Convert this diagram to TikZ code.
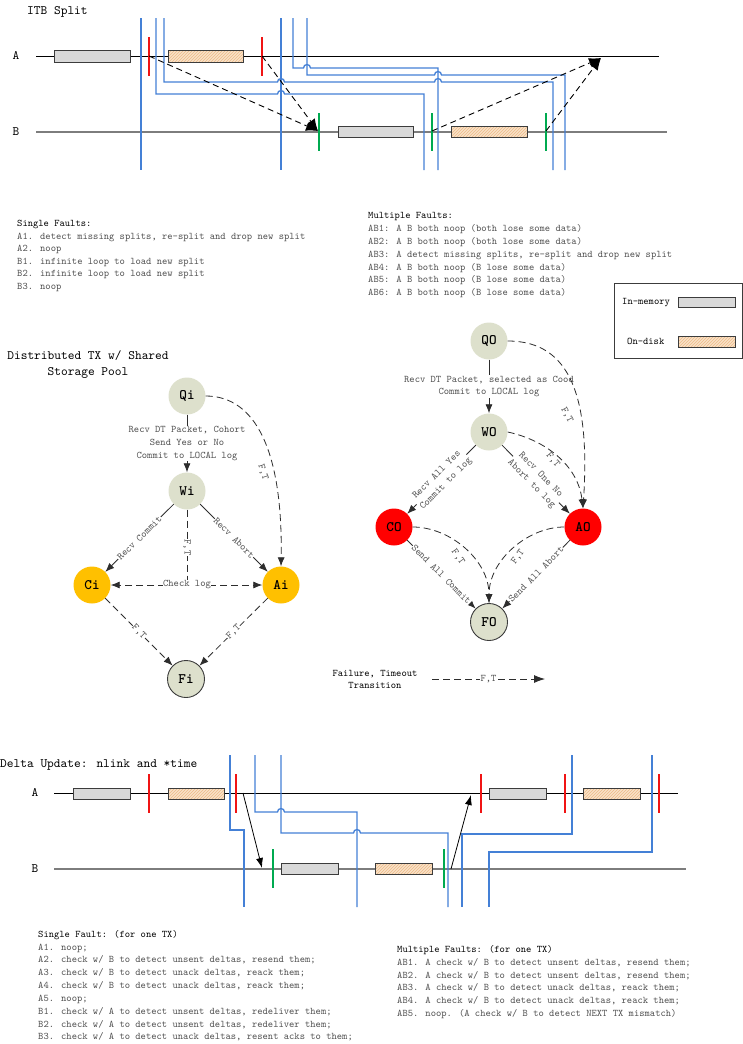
\documentclass[tikz,border=0pt]{standalone}
\usepackage{fontspec}
\usetikzlibrary{arrows.meta,patterns}
\newfontfamily\simf{lmmono10-regular.otf}
\newfontfamily\simb{lmmonolt10-bold.otf}
\definecolor{bluel}{RGB}{68,128,214}
\definecolor{redt}{RGB}{240,20,20}
\definecolor{greent}{RGB}{0,170,80}
\definecolor{nodeg}{RGB}{221,224,204}
\definecolor{orng}{RGB}{255,192,0}
\definecolor{txtg}{RGB}{80,80,80}
\definecolor{diskf}{RGB}{250,226,200}
\definecolor{diskp}{RGB}{236,186,136}
\definecolor{memf}{RGB}{217,217,217}
\definecolor{boxd}{RGB}{60,60,60}
\definecolor{linegray}{RGB}{125,125,125}
\definecolor{edg}{RGB}{45,45,45}
\tikzset{
 body/.style={font=\simf\fontsize{10.1}{12.8}\selectfont, text=txtg, inner sep=0pt},
 head/.style={font=\simf\fontsize{10.1}{12.8}\selectfont, text=black, inner sep=0pt},
 ttl/.style={font=\simf\fontsize{12.8}{16}\selectfont, text=black, inner sep=0pt},
 lab/.style={font=\simf\fontsize{10.1}{12.8}\selectfont, text=txtg, inner sep=0.6pt, fill=white},
 labnf/.style={font=\simf\fontsize{10.1}{12.8}\selectfont, text=txtg, inner sep=0pt},
 bl/.style={draw=bluel, line width=1.3pt},
 rtick/.style={draw=redt, line width=1.5pt},
 gtick/.style={draw=greent, line width=1.5pt},
 mem/.style={draw=boxd, line width=1pt, fill=memf, minimum height=11pt, inner sep=0pt},
 disk/.style={draw=boxd, line width=1pt, preaction={fill=diskf}, pattern=north east lines, pattern color=diskp, minimum height=11pt, inner sep=0pt},
 st/.style={circle, minimum size=37pt, inner sep=0pt, font=\simb\fontsize{14.5}{15}\selectfont},
 sarr/.style={draw=edg, line width=0.8pt, -{Latex[length=9pt,width=7pt]}},
 darr/.style={draw=edg, line width=0.8pt, dash pattern=on 7pt off 4pt, -{Latex[length=9pt,width=7pt]}},
 dln/.style={draw=edg, line width=0.8pt, dash pattern=on 7pt off 4pt},
 itbarr/.style={draw=black, line width=0.9pt, dash pattern=on 6pt off 4pt, -{Latex[length=12pt,width=10pt]}},
 blkarr/.style={draw=black, line width=0.8pt, -{Latex[length=10pt,width=7pt]}},
 lineA/.style={draw=black, line width=1pt},
 lineB/.style={draw=linegray, line width=1.6pt},
}
\begin{document}
\begin{tikzpicture}[x=1pt,y=-1pt]
\useasboundingbox[fill=white] (0,0) rectangle (743,1044);

% ================= ITB Split =================
\node[ttl, anchor=base west] (t1) at (27,14) {ITB Split};
\node[ttl] (la1) at (16,56) {A};
\node[ttl] (lb1) at (16,132) {B};
\draw[lineA] (36,56) -- (659,56);
\draw[lineB] (36,132) -- (667,132);
\node[mem, minimum width=76pt, minimum height=12pt] (ia1) at (92,56) {};
\node[disk, minimum width=75pt, minimum height=12pt] (ia2) at (205.5,56) {};
\node[mem, minimum width=75pt] (ib1) at (375.5,131.5) {};
\node[disk, minimum width=76pt] (ib2) at (489,131.5) {};
\draw[rtick] (149,37) -- (149,76);
\draw[rtick] (262,37) -- (262,76);
\draw[gtick] (319,113) -- (319,151);
\draw[gtick] (432,113) -- (432,151);
\draw[gtick] (546,113) -- (546,151);
% blue lines
\draw[bl] (141,18) -- (141,170);
\draw[bl] (281,18) -- (281,170);
\draw[bl] (156,18) -- (156,94) -- (277.5,94) arc[start angle=180,end angle=0,radius=3.5pt] -- (424,94) -- (424,170);
\draw[bl] (164,18) -- (164,82) -- (277.5,82) arc[start angle=180,end angle=0,radius=3.5pt] -- (434.5,82) arc[start angle=180,end angle=0,radius=3.5pt] -- (553,82) -- (553,170);
\draw[bl] (293,18) -- (293,68) -- (303.5,68) arc[start angle=180,end angle=0,radius=3.5pt] -- (438,68) -- (438,170);
\draw[bl] (307,18) -- (307,75) -- (434.5,75) arc[start angle=180,end angle=0,radius=3.5pt] -- (565,75) -- (565,170);
% dashed arrows
\coordinate (r1) at (149,56);
\coordinate (r2) at (262,56);
\coordinate (g1) at (318,131);
\coordinate (g2) at (432,131);
\coordinate (g3) at (546,131);
\coordinate (tA) at (601,58);
\draw[itbarr] (r1) -- (g1);
\draw[itbarr] (r2) -- (g1);
\draw[itbarr] (g2) -- (tA);
\draw[itbarr] (g3) -- (tA);

% texts
\node[head, anchor=base west] (sf0) at (17,226.5) {Single Faults:};
\foreach \txt [count=\i] in {{A1. detect missing splits, re-split and drop new split},{A2. noop},{B1. infinite loop to load new split},{B2. infinite loop to load new split},{B3. noop}}
  \node[body, anchor=base west] (sf\i) at (17,{226.5+12.6*\i}) {\txt};
\node[head, anchor=base west] (mf0) at (368,218.2) {Multiple Faults:};
\foreach \txt [count=\i] in {{AB1: A B both noop (both lose some data)},{AB2: A B both noop (both lose some data)},{AB3: A detect missing splits, re-split and drop new split},{AB4: A B both noop (B lose some data)},{AB5: A B both noop (B lose some data)},{AB6: A B both noop (B lose some data)}}
  \node[body, anchor=base west] (mf\i) at (368,{218.2+12.95*\i}) {\txt};

% legend
\node[draw=boxd, line width=1pt, minimum width=128pt, minimum height=75pt, inner sep=0pt] (legend) at (678,320.5) {};
\node[head, anchor=base west] (lgm) at (622,304.2) {In-memory};
\node[head, anchor=base west] (lgd) at (627,344.2) {On-disk};
\node[mem, minimum width=57pt, minimum height=10pt] (lgmb) at (706.5,302) {};
\node[disk, minimum width=57pt] (lgdb) at (706.5,341.5) {};

% ================= Distributed TX =================
\node[ttl, align=center] (t2) at (88,365) {Distributed TX w/ Shared\\Storage Pool};
\node[st, fill=nodeg] (Qi) at (187,396) {Qi};
\node[st, fill=nodeg] (Wi) at (187,491) {Wi};
\node[st, fill=orng] (Ci) at (92,585) {Ci};
\node[st, fill=orng] (Ai) at (281,585) {Ai};
\node[st, fill=nodeg, draw=boxd, line width=0.9pt] (Fi) at (186,679) {Fi};
\coordinate (chk) at (187,585);
\draw[sarr] (Qi) -- node[lab, align=center] (lq) {Recv DT Packet, Cohort\\Send Yes or No\\Commit to LOCAL log} (Wi);
\draw[sarr] (Wi) -- node[lab, sloped] (lwc) {Recv Commit} (Ci);
\draw[sarr] (Wi) -- node[lab, sloped] (lwa) {Recv Abort} (Ai);
\draw[dln] (Wi) -- node[lab, sloped] (lwf) {F,T} (chk);
\draw[darr] (chk) -- (Ci);
\draw[darr] (chk) -- (Ai);
\node[lab] (lchk) at (chk) {Check log};
\draw[darr] (Ci) -- node[lab, sloped] (lcf) {F,T} (Fi);
\draw[darr] (Ai) -- node[lab, sloped] (laf) {F,T} (Fi);
\draw[darr] (Qi.east) .. controls (255,396) and (283,450) .. (Ai.north);
\node[labnf, rotate=-72] (lqa) at (263,472) {F,T};

% ================= right graph =================
\node[st, fill=nodeg] (QO) at (489,341) {QO};
\node[st, fill=nodeg] (WO) at (489,432) {WO};
\node[st, fill=red] (CO) at (394,527) {CO};
\node[st, fill=red] (AO) at (583,527) {AO};
\node[st, fill=nodeg, draw=boxd, line width=0.9pt] (FO) at (489,622) {FO};
\draw[sarr] (QO) -- node[lab, align=center] (lqo) {Recv DT Packet, selected as Cood\\Commit to LOCAL log} (WO);
\draw[sarr] (WO) -- node[lab, sloped, align=center] (lwco) {Recv All Yes\\Commit to log} (CO);
\draw[sarr] (WO) -- node[lab, sloped, align=center] (lwao) {Recv One No\\Abort to log} (AO);
\draw[sarr] (CO) -- node[lab, sloped] (lcfo) {Send All Commit} (FO);
\draw[sarr] (AO) -- node[lab, sloped] (lafo) {Send All Abort} (FO);
\draw[darr] (QO.east) .. controls (572,341) and (590,400) .. (AO.north);
\node[labnf, rotate=-62] (lqao) at (567,415) {F,T};
\draw[darr] (WO.east) .. controls (545,440) and (578,465) .. (AO.north);
\node[labnf, rotate=-50] (lwaof) at (553,460) {F,T};
\draw[darr] (CO.east) .. controls (450,527) and (489,560) .. (FO.north);
\node[labnf, rotate=-55] (lcfof) at (458,557) {F,T};
\draw[darr] (AO.west) .. controls (528,527) and (489,560) .. (FO.north);
\node[labnf, rotate=55] (lafof) at (518,557) {F,T};

% failure legend
\node[head, align=center] (flg) at (375,679.5) {Failure, Timeout\\Transition};
\coordinate (lg1) at (432,679);
\coordinate (lg2) at (545,679);
\draw[draw=edg, line width=0.8pt, dash pattern=on 7pt off 4pt, -{Latex[length=11pt,width=8pt]}] (lg1) -- node[lab] (lft) {F,T} (lg2);

% ================= Delta Update =================
\node[ttl, anchor=base west] (t3) at (0,767.2) {Delta Update: nlink and *time};
\node[ttl] (la2) at (35,793) {A};
\node[ttl] (lb2) at (35,869) {B};
\draw[lineA] (54,793) -- (678,793);
\draw[lineB] (54,869) -- (686,869);
\node[mem, minimum width=57pt] (da1) at (101.5,793.5) {};
\node[disk, minimum width=56pt] (da2) at (196,793.5) {};
\node[mem, minimum width=57pt] (da3) at (517.5,793.5) {};
\node[disk, minimum width=57pt] (da4) at (611.5,793.5) {};
\node[mem, minimum width=57pt] (db1) at (309.5,868.5) {};
\node[disk, minimum width=57pt] (db2) at (403.5,868.5) {};
\foreach \xx in {149,236,481,565,659} \draw[rtick] (\xx,774) -- (\xx,813);
\foreach \xx in {273,444} \draw[gtick] (\xx,849) -- (\xx,888);
\draw[bl] (230,755) -- (230,830) -- (244,830) -- (244,907);
\draw[bl] (255,755) -- (255,812) -- (277.5,812) arc[start angle=180,end angle=0,radius=3.5pt] -- (357,812) -- (357,907);
\draw[bl] (281,755) -- (281,833) -- (353.5,833) arc[start angle=180,end angle=0,radius=3.5pt] -- (448,833) -- (448,907);
\draw[bl] (572,755) -- (572,834) -- (462,834) -- (462,907);
\draw[bl] (652,755) -- (652,852) -- (489,852) -- (489,907);
\coordinate (d1s) at (243,793);
\coordinate (d1e) at (262,868);
\coordinate (d2s) at (451,869);
\coordinate (d2e) at (471,795);
\draw[blkarr] (d1s) -- (d1e);
\draw[blkarr] (d2s) -- (d2e);

% bottom texts
\node[head, anchor=base west] (bs0) at (38,937.2) {Single Fault: (for one TX)};
\foreach \txt [count=\i] in {{A1. noop;},{A2. check w/ B to detect unsent deltas, resend them;},{A3. check w/ B to detect unack deltas, reack them;},{A4. check w/ B to detect unack deltas, reack them;},{A5. noop;},{B1. check w/ A to detect unsent deltas, redeliver them;},{B2. check w/ A to detect unsent deltas, redeliver them;},{B3. check w/ A to detect unack deltas, resent acks to them;}}
  \node[body, anchor=base west] (bs\i) at (38,{937.2+12.84*\i}) {\txt};
\node[head, anchor=base west] (bm0) at (397,952.5) {Multiple Faults: (for one TX)};
\foreach \txt [count=\i] in {{AB1. A check w/ B to detect unsent deltas, resend them;},{AB2. A check w/ B to detect unsent deltas, resend them;},{AB3. A check w/ B to detect unack deltas, reack them;},{AB4. A check w/ B to detect unack deltas, reack them;},{AB5. noop. (A check w/ B to detect NEXT TX mismatch)}}
  \node[body, anchor=base west] (bm\i) at (397,{952.5+12.8*\i}) {\txt};
\end{tikzpicture}
\end{document}
